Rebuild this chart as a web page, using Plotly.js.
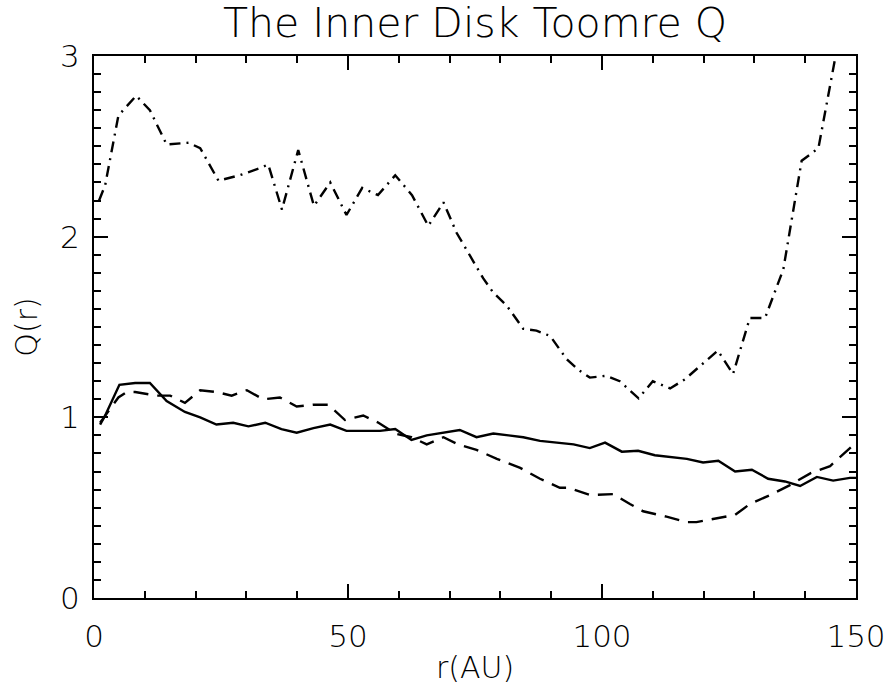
<!DOCTYPE html>
<html>
<head>
<meta charset="utf-8">
<script src="https://cdn.plot.ly/plotly-3.0.1.min.js"></script>
<style>html,body{margin:0;padding:0;background:#fff;}#chart{width:885px;height:689px;}</style>
</head>
<body>
<div id="chart"></div>
<script>
// Solid curve
const solidR = [1.2, 2.2, 5.0, 8.1, 11.0, 14.3, 17.9, 20.9, 24.1, 27.4, 30.4, 33.7, 36.9, 39.9, 43.2, 46.5, 49.7, 53.0, 56.3, 59.3, 62.5, 65.5, 68.8, 72.0, 75.3, 78.6, 81.6, 84.5, 87.8, 91.1, 94.4, 97.6, 100.6, 103.9, 107.1, 110.4, 113.7, 116.7, 119.9, 122.9, 126.2, 129.5, 132.7, 136.0, 139.0, 142.3, 145.5, 148.8, 150.0];
const solidQ = [0.96, 1.01, 1.18, 1.19, 1.19, 1.09, 1.03, 1.00, 0.96, 0.97, 0.95, 0.97, 0.935, 0.915, 0.94, 0.96, 0.925, 0.925, 0.925, 0.935, 0.875, 0.90, 0.915, 0.93, 0.89, 0.91, 0.90, 0.89, 0.87, 0.86, 0.85, 0.83, 0.86, 0.81, 0.815, 0.79, 0.78, 0.77, 0.75, 0.76, 0.70, 0.71, 0.66, 0.645, 0.62, 0.67, 0.65, 0.665, 0.665];
// Dashed curve
const dashR = [1.2, 4.8, 6.4, 8.1, 12.3, 15.0, 17.9, 20.9, 24.1, 27.1, 30.1, 33.3, 36.6, 39.9, 43.2, 46.1, 49.4, 53.0, 56.0, 59.3, 62.5, 65.5, 68.8, 71.7, 75.3, 79.3, 83.9, 87.8, 91.7, 93.4, 97.6, 102.2, 105.5, 108.1, 112.7, 116.7, 118.6, 122.6, 126.2, 129.1, 133.1, 137.0, 141.0, 144.9, 146.5, 148.8, 150.0];
const dashQ = [0.97, 1.11, 1.14, 1.14, 1.12, 1.12, 1.08, 1.15, 1.14, 1.12, 1.15, 1.10, 1.11, 1.06, 1.07, 1.07, 0.985, 1.01, 0.97, 0.91, 0.89, 0.85, 0.89, 0.85, 0.82, 0.77, 0.72, 0.66, 0.61, 0.61, 0.57, 0.575, 0.52, 0.48, 0.45, 0.42, 0.42, 0.44, 0.46, 0.52, 0.57, 0.625, 0.69, 0.73, 0.77, 0.83, 0.86];
// Dash-dot curve
const dashDotR = [1.0, 2.2, 4.8, 5.8, 8.3, 11.0, 14.3, 18.6, 20.9, 24.5, 28.7, 32.7, 34.3, 37.0, 40.2, 43.3, 46.5, 49.7, 52.8, 55.9, 59.3, 62.6, 65.8, 68.8, 71.4, 73.7, 76.6, 78.6, 81.2, 84.5, 87.1, 89.8, 93.1, 95.5, 97.6, 100.8, 103.5, 107.2, 110.0, 113.4, 116.3, 122.8, 125.8, 129.1, 132.1, 135.7, 139.3, 142.6, 146.0, 149.3];
const dashDotQ = [2.2, 2.285, 2.67, 2.70, 2.78, 2.70, 2.51, 2.52, 2.49, 2.31, 2.34, 2.38, 2.40, 2.15, 2.48, 2.17, 2.30, 2.12, 2.27, 2.23, 2.34, 2.23, 2.06, 2.19, 2.02, 1.91, 1.77, 1.69, 1.62, 1.49, 1.48, 1.45, 1.32, 1.26, 1.22, 1.23, 1.20, 1.105, 1.20, 1.16, 1.21, 1.37, 1.24, 1.55, 1.55, 1.82, 2.42, 2.49, 3.0, 3.5];

const xTicks = [0, 50, 100, 150];
const yTicks = [0, 1, 2, 3];

const FONT = 'DejaVu Sans, Liberation Sans, sans-serif';
const W = 200;
const traces = [
  {x: solidR, y: solidQ, mode: 'lines', line: {color: '#000', width: 2.4}},
  {x: dashR, y: dashQ, mode: 'lines', line: {color: '#000', width: 2.4, dash: '15px,9px'}},
  {x: dashDotR, y: dashDotQ, mode: 'lines', line: {color: '#000', width: 2.4, dash: '11px,6px,2px,6px'}}
];

const axisCommon = {
  showgrid: false, zeroline: false, showline: true, linecolor: '#000', linewidth: 2,
  mirror: 'allticks', ticks: 'inside', tickcolor: '#000', tickwidth: 2, ticklen: 14,
  ticklabeloverflow: 'allow',
  tickfont: {family: FONT, size: 31, color: '#000', weight: W}
};

const layout = {
  width: 885, height: 689,
  margin: {l: 94, r: 29, t: 56, b: 91},
  paper_bgcolor: '#fff', plot_bgcolor: '#fff',
  showlegend: false,
  title: {text: 'The Inner Disk Toomre Q', font: {family: FONT, size: 41, color: '#000', weight: W},
          x: 0.5, xref: 'paper', y: 1 - 23/689, yref: 'container', yanchor: 'middle'},
  xaxis: Object.assign({}, axisCommon, {
    range: [0, 150], tickmode: 'array', tickvals: xTicks, ticktext: xTicks.map(String),
    ticklabelstandoff: 10,
    minor: {dtick: 10, ticks: 'inside', ticklen: 7, tickwidth: 2, tickcolor: '#000', showgrid: false},
    title: {text: 'r(AU)', font: {family: FONT, size: 30, color: '#000', weight: W}, standoff: 4}
  }),
  yaxis: Object.assign({}, axisCommon, {
    range: [0, 3], tickmode: 'array', tickvals: yTicks, ticktext: yTicks.map(String),
    ticklabelstandoff: 6,
    minor: {dtick: 0.1, ticks: 'inside', ticklen: 7, tickwidth: 2, tickcolor: '#000', showgrid: false},
    title: {text: 'Q(r)', font: {family: FONT, size: 30, color: '#000', weight: W}, standoff: 14}
  })
};

Plotly.newPlot('chart', traces, layout, {displayModeBar: false, staticPlot: true});
</script>
</body>
</html>
